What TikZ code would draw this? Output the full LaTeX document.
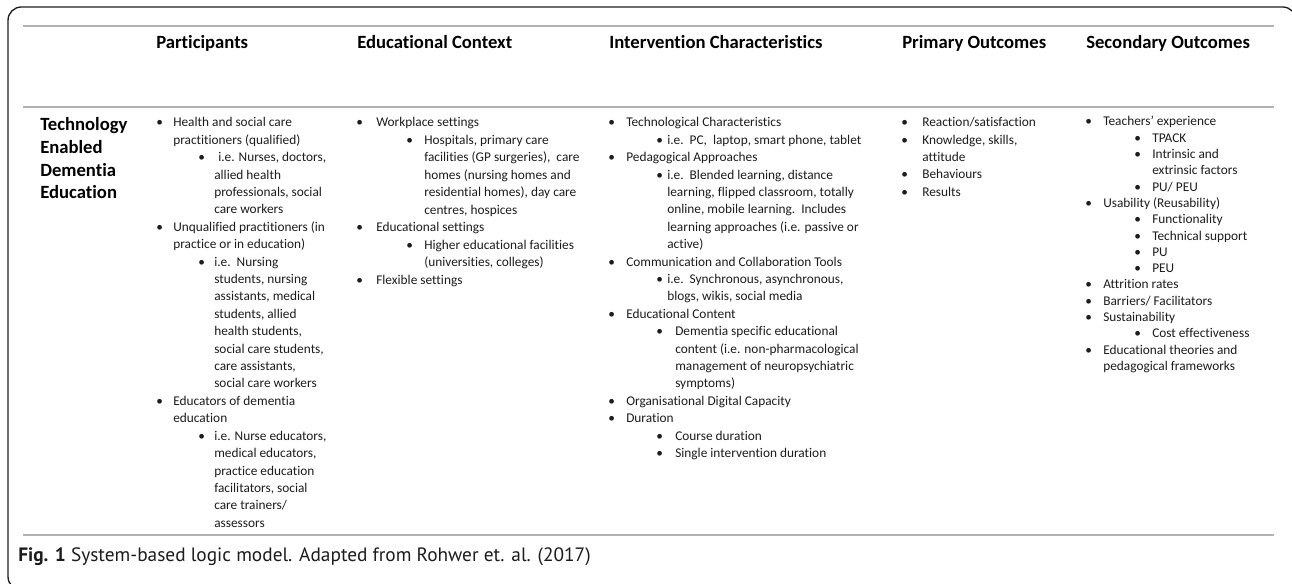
\documentclass[tikz,border=0pt]{standalone}
\usepackage{fontspec}
\setmainfont{Carlito}[Ligatures=NoCommon]
\newfontfamily\capfont{PT Sans}
\definecolor{textc}{RGB}{28,28,28}
\definecolor{rulegray}{RGB}{178,178,178}
\definecolor{framec}{RGB}{30,30,30}
\newcommand\tcol[3]{%
  \foreach \bx/\xx/\tx [count=\i] in {#3}{%
    \pgfmathsetmacro\yy{#1+(\i-1)*#2}%
    \ifnum\bx>0 \node[bul] at (\bx,\yy) {•};\fi
    \node[txt] at (\xx,\yy) {\tx};
  }}
\begin{document}
\begin{tikzpicture}[x=0.75pt,y=-0.75pt,
  txt/.style={anchor=base west,inner sep=0pt,font=\fontsize{10}{12}\selectfont,text=textc},
  bul/.style={anchor=base west,inner sep=0pt,font=\fontsize{10}{12}\selectfont,text=textc},
  hdr/.style={anchor=base west,inner sep=0pt,font=\fontsize{14}{16}\selectfont\bfseries,text=black},
  rulel/.style={draw=rulegray,line width=1.5pt},
  framel/.style={draw=framec,line width=1pt,rounded corners=10pt}]
\useasboundingbox (0,0) rectangle (1292,584);
\begin{scope}
  \clip (0,0) rectangle (1292,584);
  \draw[framel] (8,7) rectangle (1296,590);
\end{scope}
% rules
\draw[rulel] (23,26) -- (1274,26);
\draw[rulel] (23,107) -- (1274,107);
\draw[rulel] (23,535) -- (1274,535);
% headers
\node[hdr] (hP) at (156,49) {Participants};
\node[hdr] (hE) at (357,49) {Educational Context};
\node[hdr] (hI) at (609,49) {Intervention Characteristics};
\node[hdr] (hPr) at (902,49) {Primary Outcomes};
\node[hdr] (hS) at (1086,49) {Secondary Outcomes};
% row label
\node[hdr] (r1) at (40,131) {Technology};
\node[hdr] (r2) at (40,153.6) {Enabled};
\node[hdr] (r3) at (40,176.2) {Dementia};
\node[hdr] (r4) at (40,198.8) {Education};
% Participants
\tcol{127}{17.4}{156/173/{Health and social care},
0/173/{practitioners (qualified)},
198/218/{i.e. Nurses, doctors,},
0/214/{allied health},
0/214/{professionals, social},
0/214/{care workers},
156/173/{Unqualified practitioners (in},
0/173/{practice or in education)},
198/214/{i.e.\ \ Nursing},
0/214/{students, nursing},
0/214/{assistants, medical},
0/214/{students, allied},
0/214/{health students,},
0/214/{social care students,},
0/214/{care assistants,},
0/214/{social care workers},
156/173/{Educators of dementia},
0/173/{education},
198/214/{i.e. Nurse educators,},
0/214/{medical educators,},
0/214/{practice education},
0/214/{facilitators, social},
0/214/{care trainers/},
0/214/{assessors}}
% Educational context
\tcol{127}{17.45}{356/376/{Workplace settings},
406/424/{Hospitals, primary care},
0/424/{facilities (GP surgeries),\ \ care},
0/424/{homes (nursing homes and},
0/424/{residential homes), day care},
0/424/{centres, hospices},
356/376/{Educational settings},
406/424/{Higher educational facilities},
0/424/{(universities, colleges)},
356/376/{Flexible settings}}
% Intervention
\tcol{127}{17.4}{608/626/{Technological Characteristics},
656/667/{i.e.\ \ PC,\ \ laptop, smart phone, tablet},
608/626/{Pedagogical Approaches},
656/667/{i.e.\ \ Blended learning, distance},
0/667/{learning, flipped classroom, totally},
0/667/{online, mobile learning.\ \ Includes},
0/667/{learning approaches (i.e. passive or},
0/667/{active)},
608/626/{Communication and Collaboration Tools},
656/667/{i.e.\ \ Synchronous, asynchronous,},
0/667/{blogs, wikis, social media},
608/626/{Educational Content},
656/675/{Dementia specific educational},
0/675/{content (i.e. non-pharmacological},
0/675/{management of neuropsychiatric},
0/675/{symptoms)},
608/626/{Organisational Digital Capacity},
608/626/{Duration},
656/675/{Course duration},
656/675/{Single intervention duration}}
% Primary
\tcol{127}{17.3}{901/922/{Reaction/satisfaction},
901/922/{Knowledge, skills,},
0/922/{attitude},
901/922/{Behaviours},
901/922/{Results}}
% Secondary
\tcol{126}{16.3}{1085/1103/{Teachers’ experience},
1134/1152/{TPACK},
1134/1152/{Intrinsic and},
0/1152/{extrinsic factors},
1134/1152/{PU/ PEU},
1085/1103/{Usability (Reusability)},
1134/1152/{Functionality},
1134/1152/{Technical support},
1134/1152/{PU},
1134/1152/{PEU},
1085/1103/{Attrition rates},
1085/1103/{Barriers/ Facilitators},
1085/1103/{Sustainability},
1134/1152/{Cost effectiveness},
1085/1103/{Educational theories and},
0/1103/{pedagogical frameworks}}
% caption
\node[anchor=base west,inner sep=0pt,font=\capfont\fontsize{14.5}{17}\selectfont,text=textc] (cap) at (18,561)
  {\textbf{Fig. 1} System-based logic model. Adapted from Rohwer et. al. (2017)};
\end{tikzpicture}
\end{document}
